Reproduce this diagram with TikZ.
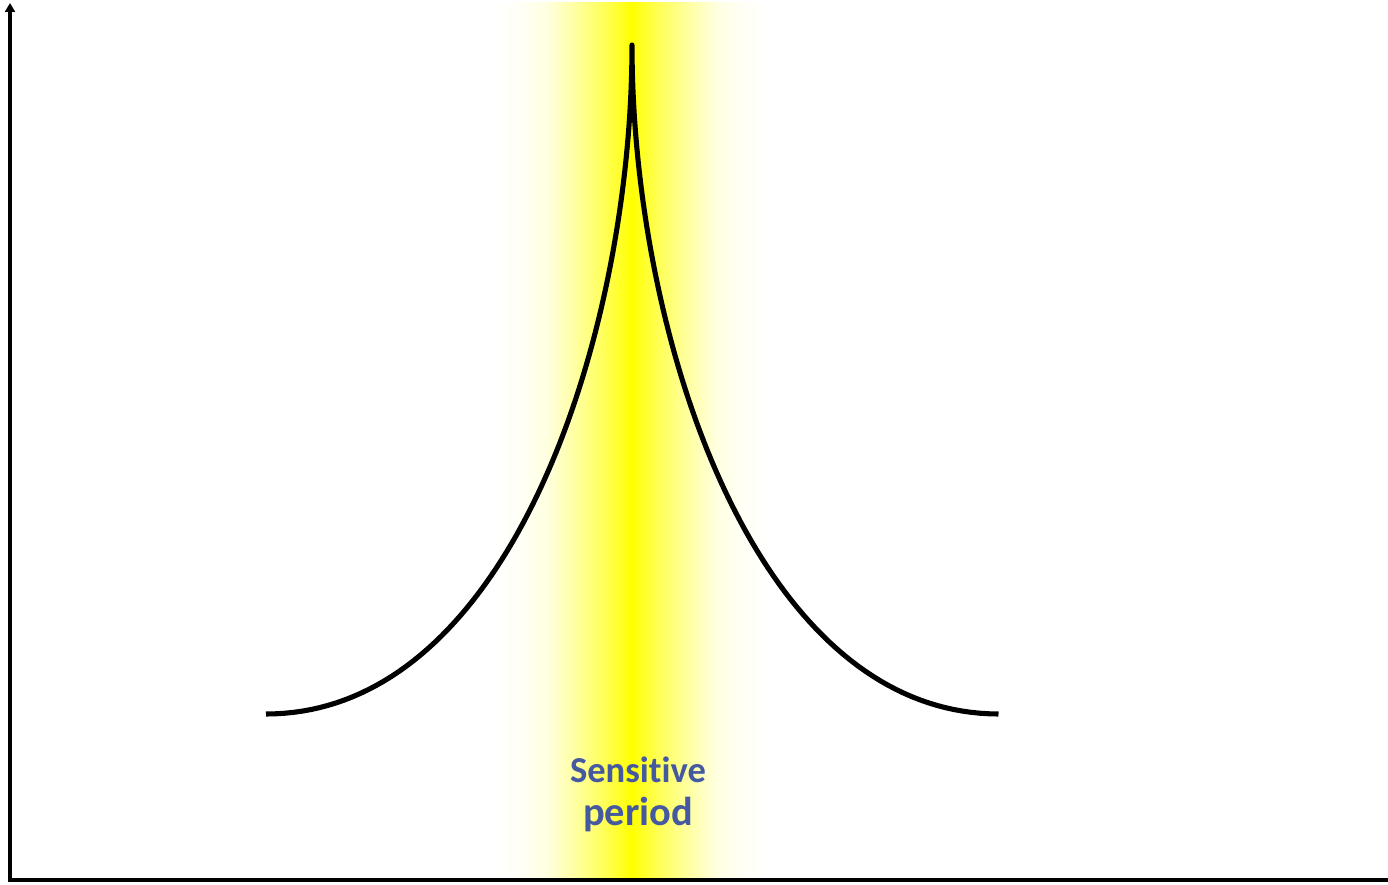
\documentclass[tikz,border=0pt]{standalone}
\usepackage{fontspec}
\setmainfont{Carlito}[Ligatures={NoCommon}]
\usepackage{tikz}
\usetikzlibrary{arrows.meta, positioning}
\definecolor{figY}{RGB}{255,255,0}
\definecolor{figT}{RGB}{68,89,160}
% band shading: white -> yellow -> white (path box is 25bp..75bp)
\pgfdeclarehorizontalshading{bandshade}{100bp}{color(0bp)=(white); color(25bp)=(white);
  color(30bp)=(figY!3); color(35bp)=(figY!12); color(41bp)=(figY!42); color(45bp)=(figY!65);
  color(48bp)=(figY!85); color(50bp)=(figY); color(52bp)=(figY!85); color(55bp)=(figY!65);
  color(59bp)=(figY!42); color(65bp)=(figY!12); color(70bp)=(figY!3); color(75bp)=(white);
  color(100bp)=(white)}
\tikzset{axisline/.style={line width=2.3pt, black},
  curveline/.style={line width=2.9pt, black},
  senslabel/.style={figT, font=\bfseries, anchor=base, inner sep=0pt}}

\begin{document}
\begin{tikzpicture}[x=0.2mm, y=-0.2mm]
\useasboundingbox (0,0) rectangle (1388,885);
% sensitive period band, centred on the peak
\shade[shading=bandshade] (490,3) rectangle (773,879);
% axes
\draw[axisline, -{Triangle[width=5.5pt, length=5pt]}] (10,880) -- (10,3);
\draw[axisline] (8,880) -- (1388,880);
% curve: x = 632 -/+ 366 s^2, height = 669 (1-s)^2 (1+0.7 s)
\draw[curveline, line join=round] plot[domain=1:0, samples=80, variable=\s]
  ({632-366*\s*\s}, {714-669*(1-\s)*(1-\s)*(1+0.7*\s)})
  -- plot[domain=0:1, samples=80, variable=\s]
  ({632+367*\s*\s}, {714-669*(1-\s)*(1-\s)*(1+0.7*\s)});
\node[senslabel, font=\bfseries\fontsize{20.8}{24}\selectfont] (sens) at (638,783) {Sensitive};
\node[senslabel, font=\bfseries\fontsize{23}{27}\selectfont] (per) at (638,826) {period};
\end{tikzpicture}
\end{document}
